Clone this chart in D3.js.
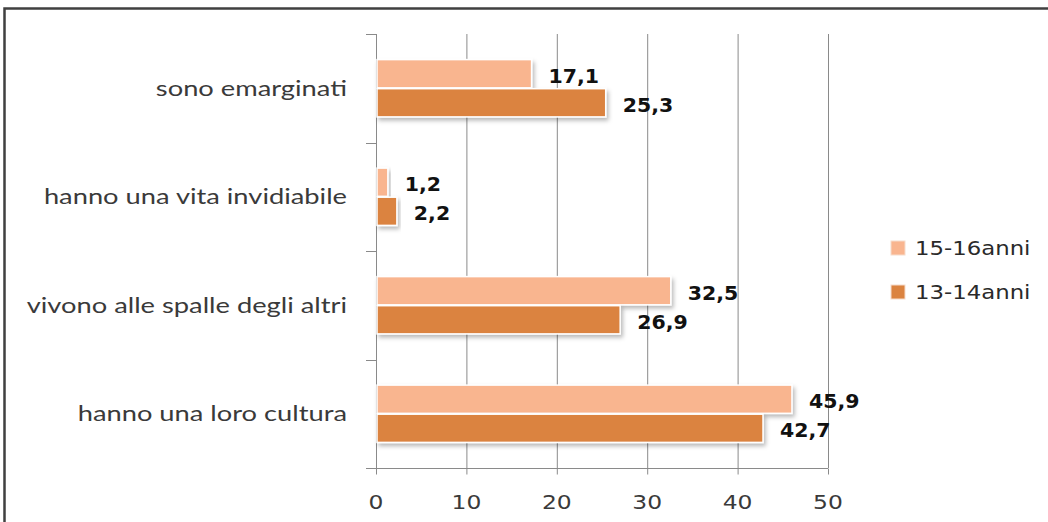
<!DOCTYPE html>
<html>
<head>
<meta charset="utf-8">
<script src="https://cdn.jsdelivr.net/npm/d3@7"></script>
<style>
  html, body { margin: 0; padding: 0; background: #fff; }
  svg { display: block; }
</style>
</head>
<body>
<svg id="chart" width="1048" height="522"></svg>
<script>
// Categories, top to bottom
const categories = [
  "sono emarginati",
  "hanno una vita invidiabile",
  "vivono alle spalle degli altri",
  "hanno una loro cultura"
];
// Series (legend order)
const seriesNames = ["15-16anni", "13-14anni"];
const values1516 = [17.1, 1.2, 32.5, 45.9];
const values1314 = [25.3, 2.2, 26.9, 42.7];
const xTicks = [0, 10, 20, 30, 40, 50];
const seriesColors = ["#F9B58F", "#DB8340"];

const seriesValues = [values1516, values1314];
const rows = categories.map((c, i) => ({
  cat: c,
  vals: seriesNames.map((s, k) => ({ series: s, k, value: seriesValues[k][i] }))
}));

const svg = d3.select("#chart");
const fmt = v => d3.format(".1f")(v).replace(".", ",");

// Horizontally widen text to a given factor of its natural width
function stretch(sel, factor) {
  sel.each(function () {
    const w = this.getComputedTextLength();
    d3.select(this).attr("textLength", w * factor).attr("lengthAdjust", "spacingAndGlyphs");
  });
}

// Outer frame (top and left edges)
svg.append("path")
  .attr("d", "M4.5,522 L4.5,8.5 L1048,8.5")
  .attr("fill", "none").attr("stroke", "#404040").attr("stroke-width", 2.5);

// Drop shadow for bars
const defs = svg.append("defs");
const f = defs.append("filter").attr("id", "shadow")
  .attr("x", "-10%").attr("y", "-30%").attr("width", "130%").attr("height", "180%");
f.append("feDropShadow").attr("dx", 2).attr("dy", 3).attr("stdDeviation", 2.2)
  .attr("flood-color", "#000").attr("flood-opacity", 0.28);

const x = d3.scaleLinear().domain([0, 50]).range([376, 828]);
const y0 = d3.scaleBand().domain(categories).range([34, 468])
  .paddingInner(0.456).paddingOuter(0.228);
const y1 = d3.scaleBand().domain(seriesNames).range([0, y0.bandwidth()]).padding(0.03);

// Vertical gridlines
svg.append("g").selectAll("line").data(xTicks.slice(1)).join("line")
  .attr("x1", d => x(d) + 0.5).attr("x2", d => x(d) + 0.5)
  .attr("y1", 34).attr("y2", 468)
  .attr("stroke", "#8a8a8a").attr("stroke-width", 1);

// Category axis (left) with ticks at band boundaries
const bounds = categories.map(c => y0(c) - y0.step() * y0.paddingInner() / 2).concat([468]);
const gy = svg.append("g");
gy.append("line").attr("x1", 376.5).attr("x2", 376.5).attr("y1", 34).attr("y2", 468)
  .attr("stroke", "#8a8a8a");
gy.selectAll("line.tk").data(bounds).join("line").attr("class", "tk")
  .attr("x1", 366).attr("x2", 376.5)
  .attr("y1", d => Math.round(d) + 0.5).attr("y2", d => Math.round(d) + 0.5)
  .attr("stroke", "#8a8a8a");
gy.selectAll("text").data(categories).join("text")
  .attr("x", 347).attr("y", d => y0(d) + y0.bandwidth() / 2)
  .attr("dy", "0.35em")
  .attr("text-anchor", "end")
  .attr("font-family", "Lato, sans-serif").attr("font-size", 22)
  .attr("fill", "#3a3a3a")
  .text(d => d)
  .call(stretch, 1.24);

// Value axis (bottom)
const gx = svg.append("g").attr("transform", "translate(0,468.5)");
gx.append("line").attr("x1", 366).attr("x2", 828).attr("stroke", "#8a8a8a");
gx.selectAll("line.tk").data(xTicks).join("line").attr("class", "tk")
  .attr("x1", d => x(d) + 0.5).attr("x2", d => x(d) + 0.5).attr("y1", 0).attr("y2", 6)
  .attr("stroke", "#8a8a8a");
gx.selectAll("text").data(xTicks).join("text")
  .attr("x", d => x(d)).attr("y", 34)
  .attr("dy", "0.35em")
  .attr("text-anchor", "middle")
  .attr("font-family", "DejaVu Sans, sans-serif").attr("font-size", 19.5)
  .attr("fill", "#3a3a3a")
  .text(d => d)
  .call(stretch, 1.2);

// Bars
const groups = svg.append("g").selectAll("g").data(rows).join("g")
  .attr("transform", d => `translate(0,${y0(d.cat)})`);
groups.selectAll("rect").data(d => d.vals).join("rect")
  .attr("x", x(0) + 1)
  .attr("y", d => y1(d.series))
  .attr("width", d => x(d.value) - x(0))
  .attr("height", y1.bandwidth())
  .attr("fill", d => seriesColors[d.k])
  .attr("stroke", "#fff").attr("stroke-width", 1.5)
  .attr("filter", "url(#shadow)");
groups.selectAll("text").data(d => d.vals).join("text")
  .attr("x", d => x(d.value) + 18)
  .attr("y", d => y1(d.series) + y1.bandwidth() / 2 + 2)
  .attr("dy", "0.35em")
  .attr("font-family", "DejaVu Sans, sans-serif").attr("font-weight", "bold")
  .attr("font-size", 19.5).attr("fill", "#111")
  .text(d => fmt(d.value))
  .call(stretch, 1.05);

// Legend
const lg = svg.append("g").selectAll("g").data(seriesNames).join("g")
  .attr("transform", (d, i) => `translate(891,${241 + i * 44})`);
lg.append("rect").attr("width", 14).attr("height", 14)
  .attr("fill", (d, i) => seriesColors[i])
  .attr("stroke", "#f6dccb").attr("stroke-width", 1);
lg.append("text").attr("x", 24).attr("y", 7).attr("dy", "0.35em")
  .attr("font-family", "DejaVu Sans, sans-serif").attr("font-size", 19)
  .attr("fill", "#2a2a2a")
  .text(d => d)
  .call(stretch, 1.2);
</script>
</body>
</html>
